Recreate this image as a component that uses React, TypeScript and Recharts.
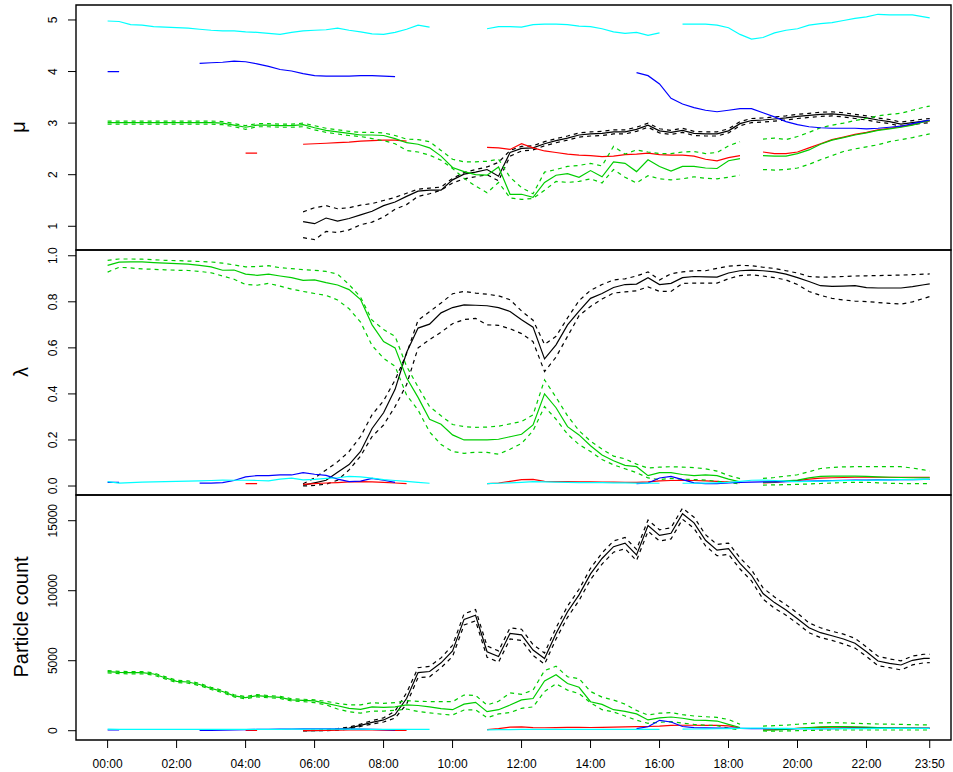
import React from 'react';
import { LineChart, Line, XAxis, YAxis, ReferenceArea } from 'recharts';

const _ = null;

// time of day in minutes, every 20 min, last sample at 23:50
const minutes = Array.from({ length: 72 }, (_v, i) => i * 20).concat([1430]);

const xTicks = [0, 120, 240, 360, 480, 600, 720, 840, 960, 1080, 1200, 1320, 1430];
const xTickLabels = ['00:00', '02:00', '04:00', '06:00', '08:00', '10:00', '12:00', '14:00', '16:00', '18:00', '20:00', '22:00', '23:50'];
const muTicks = [1, 2, 3, 4, 5];
const lambdaTicks = [0, 0.2, 0.4, 0.6, 0.8, 1.0];
const countTicks = [0, 5000, 10000, 15000];

// ---- mu panel ----
const muCyan = [
  4.98, 4.97, 4.91, 4.90, 4.87, 4.86, 4.85, 4.84, 4.82, 4.80,
  4.79, 4.79, 4.77, 4.76, 4.74, 4.72, 4.76, 4.79, 4.80, 4.81,
  4.84, 4.80, 4.77, 4.73, 4.72, 4.76, 4.82, 4.90, 4.86, _,
  _, _, _, 4.83, 4.87, 4.87, 4.86, 4.91, 4.92, 4.92,
  4.91, 4.88, 4.87, 4.83, 4.77, 4.74, 4.76, 4.70, 4.75, _,
  4.92, 4.92, 4.92, 4.90, 4.85, 4.72, 4.63, 4.66, 4.75, 4.80,
  4.83, 4.90, 4.93, 4.95, 4.99, 5.03, 5.06, 5.11, 5.10, 5.10,
  5.10, 5.06, 5.04,
];
const muBlue = [
  4.00, 4.00, _, _, _, _, _, _, 4.16, 4.17,
  4.18, 4.20, 4.19, 4.15, 4.10, 4.04, 4.01, 3.96, 3.92, 3.91,
  3.91, 3.91, 3.92, 3.92, 3.91, 3.90, _, _, _, _,
  _, _, _, _, _, _, _, _, _, _,
  _, _, _, _, _, _, 3.98, 3.92, 3.76, 3.48,
  3.37, 3.30, 3.25, 3.22, 3.25, 3.28, 3.28, 3.20, 3.12, 3.03,
  2.97, 2.93, 2.91, 2.90, 2.90, 2.90, 2.89, 2.90, 2.92, 2.94,
  2.99, 3.04, 3.06,
];
const muRed = [
  _, _, _, _, _, _, _, _, _, _,
  _, _, 2.42, 2.42, _, _, _, 2.59, 2.60, 2.61,
  2.62, 2.63, 2.65, 2.66, 2.67, 2.67, 2.65, _, _, _,
  _, _, _, 2.53, 2.52, 2.49, 2.60, 2.52, 2.46, 2.43,
  2.40, 2.38, 2.37, 2.35, 2.36, 2.39, 2.40, 2.42, 2.39, 2.38,
  2.38, 2.36, 2.30, 2.27, 2.33, 2.37, _, 2.44, 2.41, 2.41,
  2.44, 2.52, 2.60, 2.68, 2.73, 2.78, 2.82, 2.87, 2.90, 2.93,
  2.97, 3.03, 3.05,
];
const muGreen = [
  3.01, 3.01, 3.01, 3.01, 3.01, 3.01, 3.01, 3.01, 3.01, 3.01,
  3.00, 2.96, 2.92, 2.96, 2.96, 2.95, 2.95, 2.97, 2.91, 2.86,
  2.83, 2.80, 2.77, 2.77, 2.76, 2.70, 2.62, 2.59, 2.52, 2.36,
  2.14, 2.06, 2.00, 1.99, 2.15, 1.62, 1.62, 1.56, 1.85, 1.99,
  2.02, 1.95, 2.08, 1.96, 2.25, 2.22, 2.06, 2.29, 2.16, 2.07,
  2.16, 2.16, 2.13, 2.12, 2.27, 2.31, _, 2.37, 2.36, 2.36,
  2.41, 2.48, 2.59, 2.67, 2.72, 2.77, 2.81, 2.86, 2.89, 2.92,
  2.96, 3.03, 3.05,
];
const muGreenHi = [
  3.04, 3.04, 3.04, 3.04, 3.04, 3.04, 3.04, 3.04, 3.04, 3.04,
  3.03, 2.99, 2.95, 2.99, 2.99, 2.98, 2.98, 3.00, 2.95, 2.90,
  2.87, 2.84, 2.82, 2.82, 2.81, 2.76, 2.69, 2.68, 2.64, 2.47,
  2.30, 2.25, 2.25, 2.26, 2.30, 1.95, 1.75, 1.63, 2.05, 2.10,
  2.16, 2.18, 2.22, 2.17, 2.55, 2.40, 2.48, 2.44, 2.41, 2.41,
  2.44, 2.45, 2.41, 2.43, 2.56, 2.64, _, 2.69, 2.71, 2.68,
  2.74, 2.82, 2.91, 2.96, 3.00, 3.05, 3.09, 3.14, 3.17, 3.19,
  3.25, 3.31, 3.33,
];
const muGreenLo = [
  2.98, 2.98, 2.98, 2.98, 2.98, 2.98, 2.98, 2.98, 2.98, 2.98,
  2.97, 2.93, 2.88, 2.93, 2.93, 2.92, 2.92, 2.93, 2.87, 2.82,
  2.79, 2.76, 2.74, 2.70, 2.66, 2.60, 2.47, 2.44, 2.38, 2.28,
  2.12, 1.93, 1.78, 1.65, 1.85, 1.55, 1.52, 1.54, 1.70, 1.87,
  1.85, 1.87, 1.92, 1.84, 2.10, 1.95, 1.84, 1.98, 1.92, 1.90,
  1.92, 1.96, 1.93, 1.92, 1.95, 1.99, _, 2.10, 2.09, 2.10,
  2.13, 2.20, 2.29, 2.37, 2.45, 2.50, 2.54, 2.58, 2.64, 2.68,
  2.72, 2.77, 2.79,
];
const muBlack = [
  _, _, _, _, _, _, _, _, _, _,
  _, _, _, _, _, _, _, 1.09, 1.05, 1.16,
  1.10, 1.15, 1.22, 1.29, 1.40, 1.47, 1.58, 1.68, 1.70, 1.70,
  1.90, 2.01, 2.05, 2.10, 1.97, 2.43, 2.51, 2.52, 2.60, 2.66,
  2.71, 2.77, 2.79, 2.80, 2.83, 2.83, 2.88, 2.96, 2.85, 2.82,
  2.86, 2.80, 2.79, 2.79, 2.85, 2.99, 3.05, 3.06, 3.08, 3.10,
  3.13, 3.15, 3.17, 3.18, 3.16, 3.13, 3.10, 3.06, 3.03, 2.98,
  3.01, 3.04, 3.05,
];
const muBlackHi = [
  _, _, _, _, _, _, _, _, _, _,
  _, _, _, _, _, _, _, 1.28, 1.36, 1.40,
  1.34, 1.36, 1.41, 1.44, 1.50, 1.56, 1.64, 1.72, 1.74, 1.76,
  1.93, 2.04, 2.10, 2.15, 2.24, 2.47, 2.55, 2.56, 2.64, 2.70,
  2.75, 2.81, 2.83, 2.84, 2.87, 2.87, 2.92, 3.00, 2.89, 2.86,
  2.90, 2.84, 2.83, 2.83, 2.89, 3.03, 3.09, 3.10, 3.12, 3.14,
  3.17, 3.19, 3.21, 3.22, 3.20, 3.17, 3.14, 3.10, 3.07, 3.02,
  3.05, 3.08, 3.09,
];
const muBlackLo = [
  _, _, _, _, _, _, _, _, _, _,
  _, _, _, _, _, _, _, 0.78, 0.74, 0.90,
  0.88, 0.93, 1.03, 1.08, 1.18, 1.33, 1.42, 1.58, 1.63, 1.70,
  1.84, 1.92, 1.96, 2.00, 1.88, 2.36, 2.46, 2.48, 2.56, 2.62,
  2.67, 2.73, 2.75, 2.76, 2.79, 2.79, 2.84, 2.92, 2.81, 2.78,
  2.82, 2.76, 2.75, 2.75, 2.81, 2.95, 3.01, 3.02, 3.04, 3.06,
  3.09, 3.11, 3.13, 3.14, 3.12, 3.09, 3.06, 3.02, 2.99, 2.94,
  2.97, 3.00, 3.01,
];

// ---- lambda panel ----
const lamCyan = [
  0.019, 0.013, 0.015, 0.017, 0.018, 0.019, 0.020, 0.021, 0.022, 0.024,
  0.026, 0.025, 0.025, 0.024, 0.022, 0.030, 0.034, 0.027, 0.029, 0.033,
  0.036, 0.042, 0.040, 0.034, 0.028, 0.024, 0.020, 0.016, 0.012, _,
  _, _, _, 0.010, 0.012, 0.014, 0.016, 0.019, 0.018, 0.017,
  0.016, 0.015, 0.015, 0.015, 0.014, 0.014, 0.013, 0.013, 0.012, _,
  0.012, 0.012, 0.013, 0.014, 0.016, 0.020, 0.025, 0.026, 0.024, 0.021,
  0.019, 0.020, 0.021, 0.022, 0.023, 0.024, 0.025, 0.026, 0.027, 0.028,
  0.028, 0.029, 0.029,
];
const lamBlue = [
  0.016, 0.016, _, _, _, _, _, _, 0.013, 0.013,
  0.015, 0.024, 0.040, 0.045, 0.045, 0.048, 0.048, 0.058, 0.051, 0.046,
  0.030, 0.019, 0.021, 0.033, 0.025, 0.016, _, _, _, _,
  _, _, _, _, _, _, _, _, _, _,
  _, _, _, _, _, _, 0.010, 0.013, 0.035, 0.042,
  0.028, 0.014, 0.010, 0.010, 0.014, 0.016, 0.017, 0.018, 0.018, 0.019,
  0.020, 0.021, 0.022, 0.024, 0.025, 0.026, 0.026, 0.027, 0.027, 0.028,
  0.028, 0.029, 0.029,
];
const lamRed = [
  _, _, _, _, _, _, _, _, _, _,
  _, _, 0.010, 0.010, _, _, _, 0.007, 0.010, 0.013,
  0.015, 0.018, 0.019, 0.018, 0.016, 0.013, 0.010, _, _, _,
  _, _, _, 0.010, 0.013, 0.020, 0.028, 0.029, 0.020, 0.019,
  0.019, 0.018, 0.018, 0.017, 0.017, 0.016, 0.016, 0.018, 0.022, 0.024,
  0.025, 0.024, 0.022, 0.020, 0.017, 0.015, _, 0.014, 0.016, 0.020,
  0.024, 0.030, 0.034, 0.036, 0.037, 0.038, 0.038, 0.038, 0.038, 0.038,
  0.038, 0.038, 0.038,
];
const lamGreen = [
  0.958, 0.972, 0.973, 0.973, 0.970, 0.968, 0.966, 0.964, 0.958, 0.952,
  0.937, 0.938, 0.920, 0.915, 0.920, 0.912, 0.905, 0.893, 0.895, 0.883,
  0.873, 0.853, 0.810, 0.700, 0.627, 0.600, 0.470, 0.385, 0.290, 0.268,
  0.222, 0.200, 0.200, 0.200, 0.203, 0.214, 0.225, 0.265, 0.400, 0.340,
  0.258, 0.222, 0.175, 0.135, 0.110, 0.090, 0.084, 0.045, 0.058, 0.058,
  0.050, 0.045, 0.048, 0.045, 0.030, 0.018, _, 0.016, 0.018, 0.022,
  0.026, 0.035, 0.042, 0.043, 0.043, 0.043, 0.042, 0.040, 0.038, 0.037,
  0.036, 0.036, 0.036,
];
const lamGreenHi = [
  0.980, 0.986, 0.986, 0.985, 0.983, 0.980, 0.979, 0.977, 0.975, 0.973,
  0.968, 0.960, 0.952, 0.953, 0.957, 0.948, 0.944, 0.940, 0.937, 0.932,
  0.920, 0.875, 0.820, 0.720, 0.680, 0.650, 0.520, 0.430, 0.345, 0.305,
  0.267, 0.258, 0.255, 0.256, 0.260, 0.270, 0.280, 0.309, 0.461, 0.385,
  0.305, 0.240, 0.195, 0.160, 0.130, 0.118, 0.095, 0.078, 0.082, 0.084,
  0.082, 0.080, 0.075, 0.065, 0.046, 0.032, _, 0.033, 0.037, 0.043,
  0.049, 0.062, 0.076, 0.081, 0.083, 0.084, 0.084, 0.084, 0.084, 0.084,
  0.078, 0.070, 0.065,
];
const lamGreenLo = [
  0.929, 0.950, 0.947, 0.943, 0.941, 0.939, 0.937, 0.936, 0.932, 0.926,
  0.912, 0.898, 0.875, 0.872, 0.880, 0.868, 0.855, 0.845, 0.836, 0.828,
  0.808, 0.770, 0.712, 0.610, 0.555, 0.520, 0.395, 0.330, 0.235, 0.180,
  0.150, 0.142, 0.147, 0.146, 0.138, 0.160, 0.185, 0.240, 0.345, 0.290,
  0.225, 0.180, 0.150, 0.115, 0.092, 0.075, 0.058, 0.035, 0.028, 0.033,
  0.030, 0.028, 0.026, 0.020, 0.016, 0.008, _, 0.004, 0.005, 0.006,
  0.007, 0.009, 0.011, 0.013, 0.015, 0.016, 0.016, 0.014, 0.012, 0.011,
  0.010, 0.010, 0.010,
];
const lamBlack = [
  _, _, _, _, _, _, _, _, _, _,
  _, _, _, _, _, _, _, 0.004, 0.014, 0.025,
  0.060, 0.093, 0.150, 0.250, 0.318, 0.420, 0.580, 0.686, 0.703, 0.752,
  0.775, 0.787, 0.785, 0.783, 0.775, 0.758, 0.722, 0.690, 0.552, 0.613,
  0.700, 0.760, 0.815, 0.836, 0.862, 0.875, 0.877, 0.905, 0.875, 0.880,
  0.905, 0.910, 0.908, 0.907, 0.925, 0.935, 0.938, 0.935, 0.930, 0.920,
  0.905, 0.888, 0.870, 0.867, 0.868, 0.870, 0.862, 0.860, 0.860, 0.860,
  0.866, 0.874, 0.878,
];
const lamBlackHi = [
  _, _, _, _, _, _, _, _, _, _,
  _, _, _, _, _, _, _, 0.010, 0.035, 0.070,
  0.105, 0.150, 0.215, 0.310, 0.370, 0.460, 0.575, 0.720, 0.757, 0.795,
  0.835, 0.845, 0.838, 0.833, 0.826, 0.809, 0.760, 0.720, 0.615, 0.650,
  0.730, 0.805, 0.850, 0.875, 0.895, 0.900, 0.912, 0.930, 0.895, 0.922,
  0.930, 0.935, 0.935, 0.945, 0.955, 0.958, 0.957, 0.950, 0.945, 0.935,
  0.925, 0.910, 0.907, 0.908, 0.910, 0.912, 0.913, 0.914, 0.915, 0.916,
  0.918, 0.920, 0.921,
];
const lamBlackLo = [
  _, _, _, _, _, _, _, _, _, _,
  _, _, _, _, _, _, _, 0.000, 0.003, 0.008,
  0.025, 0.070, 0.130, 0.215, 0.265, 0.345, 0.440, 0.600, 0.636, 0.668,
  0.705, 0.723, 0.728, 0.700, 0.698, 0.683, 0.662, 0.627, 0.497, 0.560,
  0.650, 0.740, 0.780, 0.812, 0.838, 0.843, 0.848, 0.865, 0.845, 0.845,
  0.880, 0.881, 0.881, 0.881, 0.900, 0.914, 0.917, 0.912, 0.905, 0.895,
  0.875, 0.845, 0.828, 0.815, 0.808, 0.803, 0.801, 0.797, 0.793, 0.790,
  0.800, 0.815, 0.823,
];

// ---- particle count panel ----
const cntCyan = [
  110, 100, 100, 100, 100, 100, 100, 100, 100, 100,
  100, 100, 100, 100, 100, 100, 110, 110, 110, 110,
  110, 110, 110, 100, 100, 100, 100, 90, 90, _,
  _, _, _, 60, 70, 80, 90, 100, 100, 100,
  100, 100, 100, 100, 100, 100, 100, 100, 100, _,
  110, 120, 130, 140, 150, 170, 190, 180, 170, 160,
  150, 150, 150, 150, 150, 150, 150, 160, 160, 160,
  165, 170, 171,
];
const cntBlue = [
  50, 50, _, _, _, _, _, _, 20, 30,
  40, 60, 80, 90, 100, 110, 120, 130, 140, 140,
  130, 120, 110, 100, 80, 60, _, _, _, _,
  _, _, _, _, _, _, _, _, _, _,
  _, _, _, _, _, _, 150, 280, 740, 620,
  300, 220, 200, 190, 180, 160, 150, 150, 150, 150,
  150, 150, 155, 155, 160, 160, 160, 165, 165, 165,
  170, 170, 170,
];
const cntRed = [
  _, _, _, _, _, _, _, _, _, _,
  _, _, 30, 30, _, _, _, 10, 20, 30,
  40, 50, 50, 50, 40, 30, 20, _, _, _,
  _, _, _, 80, 150, 250, 280, 220, 210, 220,
  240, 240, 230, 240, 260, 280, 290, 300, 330, 380,
  390, 390, 380, 380, 350, 200, _, 50, 70, 110,
  160, 210, 240, 250, 250, 240, 230, 210, 200, 190,
  185, 180, 180,
];
const cntGreen = [
  4214, 4160, 4143, 4143, 4050, 3780, 3520, 3480, 3300, 3020,
  2800, 2490, 2360, 2500, 2430, 2380, 2200, 2160, 2130, 1950,
  1780, 1590, 1520, 1700, 1671, 1700, 1850, 1800, 1700, 1580,
  1500, 1900, 2029, 1357, 1500, 1836, 2200, 2300, 3550, 4000,
  3370, 3100, 2071, 1880, 1500, 1380, 1200, 770, 920, 980,
  890, 760, 740, 690, 450, 230, _, 40, 60, 100,
  170, 230, 270, 290, 290, 270, 250, 220, 200, 190,
  180, 175, 171,
];
const cntGreenHi = [
  4290, 4240, 4220, 4220, 4130, 3860, 3600, 3560, 3380, 3100,
  2880, 2570, 2440, 2580, 2510, 2460, 2280, 2250, 2200, 2100,
  1950, 1850, 1850, 2000, 1950, 2000, 2150, 2100, 2080, 2071,
  2071, 2550, 2520, 1836, 2100, 2700, 2600, 2900, 4300, 4600,
  3850, 3720, 2800, 2400, 2190, 1900, 1450, 1121, 1250, 1300,
  1150, 1050, 1000, 950, 800, 457, _, 330, 357, 400,
  460, 520, 560, 571, 560, 530, 500, 480, 470, 450,
  430, 415, 407,
];
const cntGreenLo = [
  4130, 4080, 4060, 4060, 3970, 3700, 3440, 3400, 3220, 2940,
  2720, 2410, 2280, 2420, 2350, 2300, 2120, 2080, 2000, 1850,
  1550, 1350, 1250, 1400, 1400, 1450, 1550, 1370, 1280, 1180,
  1121, 1480, 1500, 929, 1200, 1300, 1600, 1700, 2800, 3350,
  2900, 2650, 2000, 1500, 1340, 1050, 750, 529, 600, 643,
  550, 450, 400, 360, 180, 50, _, -21, -30, -20,
  0, 20, 40, 50, 50, 50, 50, 50, 50, 50,
  50, 50, 50,
];
const cntBlack = [
  _, _, _, _, _, _, _, _, _, _,
  _, _, _, _, _, _, _, 0, 10, 30,
  90, 190, 380, 600, 770, 1150, 2300, 4150, 4230, 4850,
  5700, 7950, 8250, 5643, 5300, 6950, 6850, 5764, 5150, 6950,
  8500, 9700, 11200, 12300, 13143, 13400, 12550, 14650, 13950, 14100,
  15500, 14850, 13600, 12900, 13000, 11957, 11100, 9800, 9150, 8621,
  8000, 7350, 7000, 6780, 6550, 6250, 5643, 4980, 4814, 4693,
  5030, 5171, 5171,
];
const cntBlackHi = [
  _, _, _, _, _, _, _, _, _, _,
  _, _, _, _, _, _, _, 0, 30, 70,
  150, 260, 470, 720, 920, 1400, 2700, 4500, 4600, 5200,
  6100, 8350, 8650, 6050, 5700, 7350, 7250, 6150, 5550, 7350,
  8900, 10100, 11600, 12700, 13550, 13800, 12950, 15050, 14350, 14500,
  15900, 15250, 14000, 13300, 13400, 12350, 11500, 10200, 9550, 9000,
  8400, 7700, 7350, 7100, 6900, 6600, 5980, 5320, 5130, 4990,
  5330, 5460, 5460,
];
const cntBlackLo = [
  _, _, _, _, _, _, _, _, _, _,
  _, _, _, _, _, _, _, 0, 0, 5,
  40, 130, 300, 480, 620, 900, 1900, 3800, 3850, 4500,
  5300, 7550, 7850, 5250, 4900, 6550, 6450, 5380, 4750, 6550,
  8100, 9300, 10800, 11900, 12750, 13000, 12150, 14250, 13550, 13700,
  15100, 14450, 13200, 12500, 12600, 11550, 10700, 9400, 8750, 8250,
  7650, 7000, 6650, 6450, 6200, 5900, 5300, 4650, 4500, 4340,
  4700, 4850, 4860,
];

const X_DOMAIN: [number, number] = [-55, 1467];
const FONT = '"Liberation Sans", Arial, Helvetica, sans-serif';
const GREEN = '#00CD00';
const W = 953;

type Series = Record<string, (number | null)[]>;

function buildRows(series: Series) {
  return minutes.map((t, i) => {
    const row: Record<string, number | null> = { t };
    for (const k of Object.keys(series)) row[k] = series[k][i] ?? null;
    return row;
  });
}

const XTick = (p: any) => {
  const idx = xTicks.indexOf(p.payload.value);
  return (
    <text x={p.x} y={p.y} textAnchor="middle" fontSize={12} fontFamily={FONT} fill="#000">
      {xTickLabels[idx]}
    </text>
  );
};

const makeYTick = (fmt: (v: number) => string) => (p: any) => (
  <text
    x={p.x}
    y={p.y}
    transform={`rotate(-90 ${p.x} ${p.y})`}
    textAnchor="middle"
    fontSize={12}
    fontFamily={FONT}
    fill="#000"
  >
    {fmt(p.payload.value)}
  </text>
);

const line = (key: string, color: string, dashed = false) => (
  <Line
    key={key}
    dataKey={key}
    type="linear"
    stroke={color}
    strokeWidth={1.2}
    strokeDasharray={dashed ? '4 4' : undefined}
    dot={false}
    activeDot={false}
    connectNulls={false}
    isAnimationActive={false}
  />
);

interface PanelProps {
  top: number;
  height: number;
  marginTop: number;
  series: Series;
  yDomain: [number, number];
  yTicks: number[];
  yFmt: (v: number) => string;
  title: string;
  titleX: number;
  titleY: number;
  showX?: boolean;
}

function Panel({ top, height, marginTop, series, yDomain, yTicks, yFmt, title, titleX, titleY, showX }: PanelProps) {
  const data = buildRows(series);
  return (
    <div style={{ position: 'absolute', left: 0, top, width: W, height }}>
      <LineChart width={W} height={height} data={data} margin={{ top: marginTop, right: 2, bottom: 0, left: 0 }}>
        <XAxis
          type="number"
          dataKey="t"
          domain={X_DOMAIN}
          allowDataOverflow
          hide={!showX}
          ticks={xTicks}
          interval={0}
          height={32}
          tickSize={8}
          tickMargin={20}
          axisLine={false}
          tickLine={{ stroke: '#000' }}
          tick={XTick}
        />
        <YAxis
          type="number"
          domain={yDomain}
          allowDataOverflow
          ticks={yTicks}
          interval={0}
          width={76}
          tickSize={8}
          tickMargin={11}
          axisLine={false}
          tickLine={{ stroke: '#000' }}
          tick={makeYTick(yFmt)}
        />
        {line('blackLo', '#000', true)}
        {line('blackHi', '#000', true)}
        {line('black', '#000')}
        {line('red', '#FF0000')}
        {line('greenLo', GREEN, true)}
        {line('greenHi', GREEN, true)}
        {line('green', GREEN)}
        {line('blue', '#0000FF')}
        {line('cyan', '#00FFFF')}
        <ReferenceArea
          x1={X_DOMAIN[0]}
          x2={X_DOMAIN[1]}
          y1={yDomain[0]}
          y2={yDomain[1]}
          fill="none"
          stroke="#000"
          strokeWidth={1.4}
          ifOverflow="visible"
        />
      </LineChart>
      <div
        style={{
          position: 'absolute',
          left: titleX,
          top: titleY,
          transform: 'translate(-50%, -50%) rotate(-90deg)',
          whiteSpace: 'nowrap',
          fontFamily: FONT,
          fontSize: 20,
          lineHeight: '20px',
          color: '#000',
        }}
      >
        {title}
      </div>
    </div>
  );
}

export default function App() {
  return (
    <div style={{ position: 'absolute', left: 0, top: 0, width: W, height: 772, background: '#fff' }}>
      <style>{`.recharts-surface{overflow:visible}`}</style>
      <Panel
        top={0}
        height={250}
        marginTop={5}
        series={{
          blackLo: muBlackLo, blackHi: muBlackHi, black: muBlack, red: muRed,
          greenLo: muGreenLo, greenHi: muGreenHi, green: muGreen, blue: muBlue, cyan: muCyan,
        }}
        yDomain={[0.54, 5.29]}
        yTicks={muTicks}
        yFmt={(v) => String(v)}
        title="μ"
        titleX={18}
        titleY={127}
      />
      <Panel
        top={250}
        height={245}
        marginTop={0}
        series={{
          blackLo: lamBlackLo, blackHi: lamBlackHi, black: lamBlack, red: lamRed,
          greenLo: lamGreenLo, greenHi: lamGreenHi, green: lamGreen, blue: lamBlue, cyan: lamCyan,
        }}
        yDomain={[-0.039, 1.025]}
        yTicks={lambdaTicks}
        yFmt={(v) => v.toFixed(1)}
        title="λ"
        titleX={21}
        titleY={122}
      />
      <Panel
        top={495}
        height={277}
        marginTop={0}
        series={{
          blackLo: cntBlackLo, blackHi: cntBlackHi, black: cntBlack, red: cntRed,
          greenLo: cntGreenLo, greenHi: cntGreenHi, green: cntGreen, blue: cntBlue, cyan: cntCyan,
        }}
        yDomain={[-664, 16836]}
        yTicks={countTicks}
        yFmt={(v) => String(v)}
        title="Particle count"
        titleX={21}
        titleY={122}
        showX
      />
    </div>
  );
}
